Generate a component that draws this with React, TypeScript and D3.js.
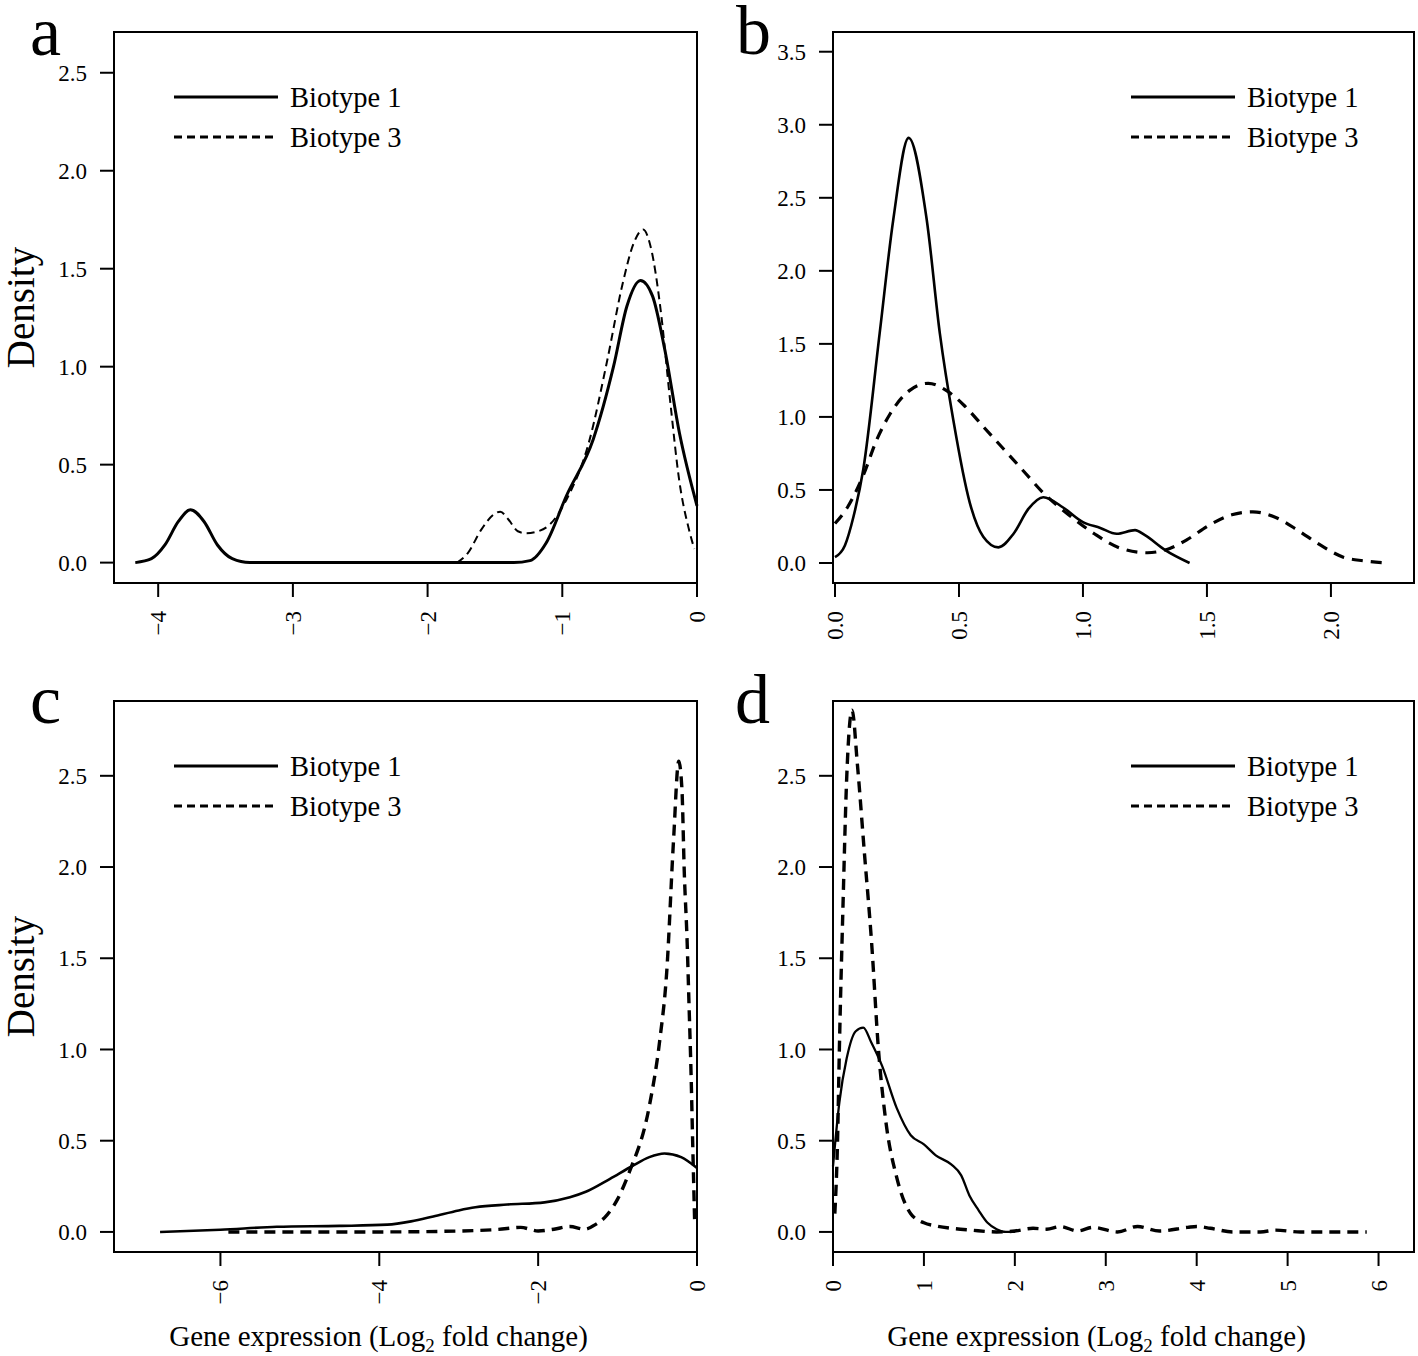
import React from "react";
import * as d3 from "d3";

// ---------- DATA ----------
const biotypeLabels = ["Biotype 1", "Biotype 3"];
const xTitle = "Gene expression (Log";
const xTitleSub = "2";
const xTitleEnd = " fold change)";
const yTitle = "Density";

// panel a
const aBiotype1: [number, number][] = [
  [-4.17, 0.0], [-4.05, 0.02], [-3.95, 0.09], [-3.85, 0.21], [-3.76, 0.27], [-3.66, 0.21],
  [-3.56, 0.09], [-3.45, 0.02], [-3.32, 0.0], [-1.36, 0.0], [-1.24, 0.01], [-1.12, 0.1],
  [-0.97, 0.34], [-0.77, 0.63], [-0.62, 1.0], [-0.52, 1.31], [-0.42, 1.44], [-0.33, 1.36],
  [-0.24, 1.09], [-0.13, 0.66], [0.0, 0.29],
];
const aBiotype3: [number, number][] = [
  [-1.78, 0.0], [-1.7, 0.05], [-1.6, 0.17], [-1.5, 0.25], [-1.46, 0.26], [-1.4, 0.22],
  [-1.33, 0.16], [-1.27, 0.15], [-1.18, 0.16], [-1.1, 0.19], [-0.97, 0.32], [-0.8, 0.62],
  [-0.67, 1.02], [-0.55, 1.43], [-0.47, 1.63], [-0.4, 1.7], [-0.34, 1.6], [-0.27, 1.29],
  [-0.2, 0.83], [-0.13, 0.41], [-0.06, 0.17], [-0.02, 0.07],
];
const aXTicks = [-4, -3, -2, -1, 0];
const aYTicks = [0, 0.5, 1.0, 1.5, 2.0, 2.5];

// panel b
const bBiotype1: [number, number][] = [
  [0.0, 0.04], [0.04, 0.12], [0.075, 0.32], [0.114, 0.64], [0.18, 1.57], [0.235, 2.35],
  [0.297, 2.91], [0.37, 2.35], [0.423, 1.57], [0.477, 0.98], [0.544, 0.41], [0.598, 0.18],
  [0.659, 0.107], [0.72, 0.2], [0.78, 0.37], [0.84, 0.45], [0.92, 0.38], [1.0, 0.28],
  [1.07, 0.24], [1.136, 0.2], [1.21, 0.225], [1.25, 0.19], [1.33, 0.09], [1.43, 0.0],
];
const bBiotype3: [number, number][] = [
  [0.0, 0.27], [0.05, 0.38], [0.114, 0.6], [0.17, 0.85], [0.222, 1.02], [0.3, 1.18],
  [0.376, 1.23], [0.45, 1.18], [0.52, 1.08], [0.6, 0.93], [0.68, 0.78], [0.76, 0.63],
  [0.84, 0.48], [0.95, 0.32], [1.046, 0.2], [1.153, 0.1], [1.26, 0.07], [1.35, 0.1],
  [1.42, 0.16], [1.51, 0.26], [1.6, 0.33], [1.685, 0.35], [1.78, 0.31], [1.87, 0.22],
  [1.96, 0.12], [2.05, 0.04], [2.13, 0.015], [2.233, 0.0],
];
const bXTicks = [0.0, 0.5, 1.0, 1.5, 2.0];
const bYTicks = [0, 0.5, 1.0, 1.5, 2.0, 2.5, 3.0, 3.5];

// panel c
const cBiotype1: [number, number][] = [
  [-6.76, 0.0], [-6.0, 0.012], [-5.29, 0.028], [-4.5, 0.033], [-3.9, 0.04], [-3.6, 0.058],
  [-3.32, 0.085], [-3.0, 0.118], [-2.79, 0.135], [-2.39, 0.15], [-1.92, 0.162], [-1.6, 0.19],
  [-1.4, 0.22], [-1.1, 0.29], [-0.82, 0.36], [-0.6, 0.41], [-0.41, 0.43], [-0.2, 0.41],
  [0.0, 0.35],
];
const cBiotype3: [number, number][] = [
  [-5.9, 0.0], [-5.5, 0.0], [-4.0, 0.0], [-3.0, 0.005], [-2.5, 0.014], [-2.22, 0.025],
  [-2.0, 0.005], [-1.8, 0.015], [-1.6, 0.03], [-1.42, 0.015], [-1.28, 0.04], [-1.16, 0.08],
  [-1.0, 0.18], [-0.85, 0.33], [-0.6, 0.69], [-0.469, 1.05], [-0.382, 1.42], [-0.295, 2.15],
  [-0.23, 2.58], [-0.19, 2.43], [-0.16, 1.97], [-0.125, 1.6], [-0.1, 1.24], [-0.075, 0.87],
  [-0.055, 0.5], [-0.03, 0.066],
];
const cXTicks = [-6, -4, -2, 0];
const cYTicks = [0, 0.5, 1.0, 1.5, 2.0, 2.5];

// panel d
const dBiotype1: [number, number][] = [
  [0.0, 0.36], [0.07, 0.71], [0.15, 0.95], [0.25, 1.1], [0.333, 1.12], [0.42, 1.04],
  [0.54, 0.91], [0.7, 0.68], [0.855, 0.53], [1.0, 0.48], [1.13, 0.42], [1.3, 0.37],
  [1.41, 0.31], [1.5, 0.2], [1.6, 0.12], [1.7, 0.05], [1.8, 0.015], [1.9, 0.0], [2.0, 0.0],
];
const dBiotype3: [number, number][] = [
  [0.02, 0.1], [0.05, 0.5], [0.07, 1.0], [0.11, 1.79], [0.15, 2.48], [0.21, 2.86],
  [0.267, 2.57], [0.345, 2.08], [0.424, 1.59], [0.5, 1.0], [0.58, 0.61], [0.7, 0.3],
  [0.855, 0.1], [1.0, 0.05], [1.13, 0.033], [1.3, 0.02], [1.52, 0.01], [1.8, 0.0],
  [2.0, 0.005], [2.2, 0.02], [2.35, 0.015], [2.5, 0.03], [2.69, 0.005], [2.86, 0.025],
  [3.13, 0.0], [3.35, 0.03], [3.59, 0.005], [3.9, 0.025], [4.0, 0.03], [4.15, 0.02],
  [4.4, 0.0], [4.7, 0.0], [4.87, 0.01], [5.14, 0.0], [5.5, 0.0], [5.87, 0.0],
];
const dXTicks = [0, 1, 2, 3, 4, 5, 6];
const dYTicks = [0, 0.5, 1.0, 1.5, 2.0, 2.5];

// ---------- LAYOUT ----------
const W = 1418;
const H = 1356;
const FONT = "'Liberation Serif', 'Times New Roman', Times, serif";
const cols = [
  { x0: 114, x1: 697 },
  { x0: 833, x1: 1414 },
];
const rows = [
  { y0: 32, y1: 583 },
  { y0: 701, y1: 1252 },
];

const fmtInt = (v: number) => (v < 0 ? "\u2212" + Math.abs(v) : String(v));
const fmt1 = (v: number) => v.toFixed(1);

type PanelCfg = {
  letter: string;
  letterPos: [number, number];
  col: number;
  row: number;
  xDomain: [number, number];
  yDomain: [number, number];
  xTicks: number[];
  yTicks: number[];
  xFmt: (v: number) => string;
  s1: [number, number][];
  s3: [number, number][];
  w1: number;
  w3: number;
  dash3: string;
  legendRight: boolean;
  yTitle: boolean;
  xTitle: boolean;
};

const panels: PanelCfg[] = [
  {
    letter: "a", letterPos: [30, 55], col: 0, row: 0,
    xDomain: [-4.328, 0], yDomain: [-0.104, 2.708],
    xTicks: aXTicks, yTicks: aYTicks, xFmt: fmtInt,
    s1: aBiotype1, s3: aBiotype3, w1: 3, w3: 2, dash3: "8,5",
    legendRight: false, yTitle: true, xTitle: false,
  },
  {
    letter: "b", letterPos: [736, 54], col: 1, row: 0,
    xDomain: [-0.008, 2.335], yDomain: [-0.137, 3.635],
    xTicks: bXTicks, yTicks: bYTicks, xFmt: fmt1,
    s1: bBiotype1, s3: bBiotype3, w1: 2.6, w3: 3.2, dash3: "11,8",
    legendRight: true, yTitle: false, xTitle: false,
  },
  {
    letter: "c", letterPos: [30, 723], col: 0, row: 1,
    xDomain: [-7.34, 0], yDomain: [-0.11, 2.91],
    xTicks: cXTicks, yTicks: cYTicks, xFmt: fmtInt,
    s1: cBiotype1, s3: cBiotype3, w1: 2.6, w3: 3.4, dash3: "11,7",
    legendRight: false, yTitle: true, xTitle: true,
  },
  {
    letter: "d", letterPos: [735, 723], col: 1, row: 1,
    xDomain: [0, 6.39], yDomain: [-0.11, 2.91],
    xTicks: dXTicks, yTicks: dYTicks, xFmt: fmtInt,
    s1: dBiotype1, s3: dBiotype3, w1: 2.3, w3: 3.4, dash3: "11,7",
    legendRight: true, yTitle: false, xTitle: true,
  },
];

function Panel({ p }: { p: PanelCfg }) {
  const { x0, x1 } = cols[p.col];
  const { y0, y1 } = rows[p.row];
  const xs = d3.scaleLinear().domain(p.xDomain).range([x0, x1]);
  const ys = d3.scaleLinear().domain(p.yDomain).range([y1, y0]);
  const line = d3
    .line<[number, number]>()
    .x((d) => xs(d[0]))
    .y((d) => ys(d[1]))
    .curve(d3.curveMonotoneX);
  const tickLen = 14;
  const legX = p.legendRight ? x1 - 283 : x0 + 60;
  const legY = [y0 + 65, y0 + 105];
  const cx = (x0 + x1) / 2;
  const cy = (y0 + y1) / 2;
  return (
    <g>
      <text x={p.letterPos[0]} y={p.letterPos[1]} fontSize={70} fontFamily={FONT} fill="#000">
        {p.letter}
      </text>
      <path d={line(p.s1) || ""} fill="none" stroke="#000" strokeWidth={p.w1} strokeLinejoin="round" />
      <path d={line(p.s3) || ""} fill="none" stroke="#000" strokeWidth={p.w3} strokeDasharray={p.dash3} />
      <rect x={x0} y={y0} width={x1 - x0} height={y1 - y0} fill="none" stroke="#000" strokeWidth={2} />
      {p.yTicks.map((t) => (
        <g key={"y" + t}>
          <line x1={x0 - tickLen} x2={x0} y1={ys(t)} y2={ys(t)} stroke="#000" strokeWidth={2} />
          <text
            x={x0 - tickLen - 13}
            y={ys(t)}
            dy="0.35em"
            textAnchor="end"
            fontSize={23}
            fontFamily={FONT}
            fill="#000"
          >
            {fmt1(t)}
          </text>
        </g>
      ))}
      {p.xTicks.map((t) => (
        <g key={"x" + t}>
          <line x1={xs(t)} x2={xs(t)} y1={y1} y2={y1 + tickLen} stroke="#000" strokeWidth={2} />
          <text
            transform={`translate(${xs(t)},${y1 + tickLen + 14}) rotate(-90)`}
            dy="0.35em"
            textAnchor="end"
            fontSize={23}
            fontFamily={FONT}
            fill="#000"
          >
            {p.xFmt(t)}
          </text>
        </g>
      ))}
      {/* legend */}
      <line x1={legX} x2={legX + 104} y1={legY[0]} y2={legY[0]} stroke="#000" strokeWidth={3} />
      <line
        x1={legX}
        x2={legX + 104}
        y1={legY[1]}
        y2={legY[1]}
        stroke="#000"
        strokeWidth={3}
        strokeDasharray="8,5"
      />
      {biotypeLabels.map((lab, i) => (
        <text
          key={lab}
          x={legX + 116}
          y={legY[i]}
          dy="0.35em"
          fontSize={28.5}
          fontFamily={FONT}
          fill="#000"
        >
          {lab}
        </text>
      ))}
      {p.yTitle && (
        <text
          transform={`translate(34,${cy}) rotate(-90)`}
          textAnchor="middle"
          fontSize={39}
          fontFamily={FONT}
          fill="#000"
        >
          {yTitle}
        </text>
      )}
      {p.xTitle && (
        <text x={cx - 27} y={1346} textAnchor="middle" fontSize={29} fontFamily={FONT} fill="#000">
          {xTitle}
          <tspan fontSize={19} dy={6}>
            {xTitleSub}
          </tspan>
          <tspan dy={-6}>{xTitleEnd}</tspan>
        </text>
      )}
    </g>
  );
}

export default function App() {
  return (
    <svg
      width={W}
      height={H}
      viewBox={`0 0 ${W} ${H}`}
      style={{ position: "absolute", left: 0, top: 0, background: "#fff" }}
    >
      <rect x={0} y={0} width={W} height={H} fill="#fff" />
      {panels.map((p) => (
        <Panel key={p.letter} p={p} />
      ))}
    </svg>
  );
}
